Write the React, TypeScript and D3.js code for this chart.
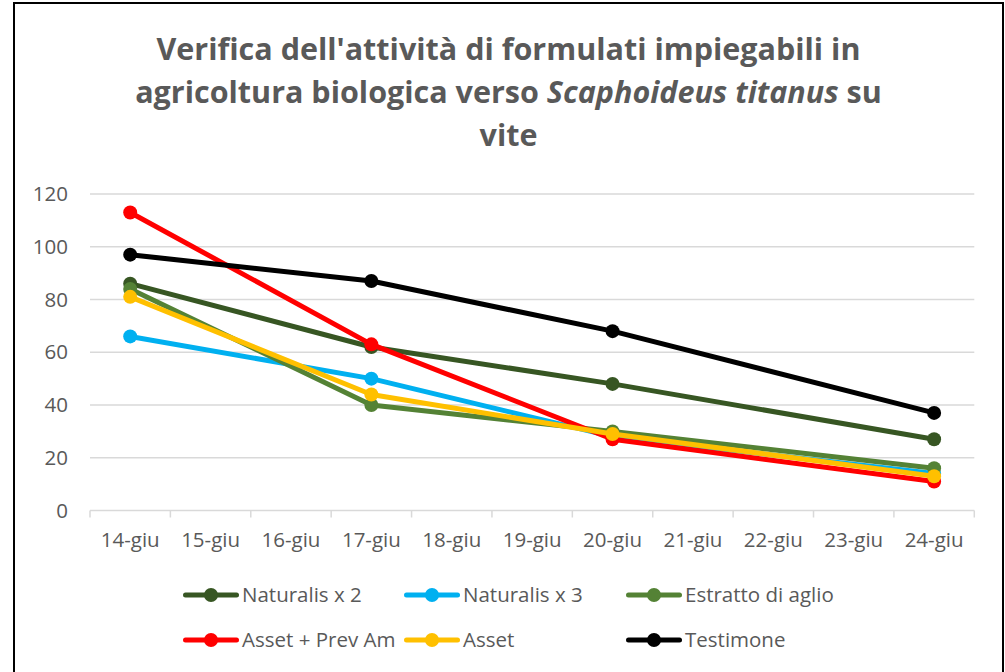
import React, { useEffect, useRef } from 'react';
import * as d3 from 'd3';

const categories = [
  '14-giu', '15-giu', '16-giu', '17-giu', '18-giu', '19-giu',
  '20-giu', '21-giu', '22-giu', '23-giu', '24-giu',
];
const sampleDays = ['14-giu', '17-giu', '20-giu', '24-giu'];

const seriesNames = [
  'Naturalis x 2',
  'Naturalis x 3',
  'Estratto di aglio',
  'Asset + Prev Am',
  'Asset',
  'Testimone',
];
const seriesColors = ['#375623', '#00B0F0', '#548235', '#FF0000', '#FFC000', '#000000'];

const naturalis2 = [86, 62, 48, 27];
const naturalis3 = [66, 50, 28, 14];
const estrattoAglio = [84, 40, 30, 16];
const assetPrevAm = [113, 63, 27, 11];
const asset = [81, 44, 29, 13];
const testimone = [97, 87, 68, 37];

const yTicks = [0, 20, 40, 60, 80, 100, 120];

const W = 1005;
const H = 672;
const FONT = "'Open Sans', 'Noto Sans', sans-serif";
const GREY = '#595959';

const App = () => {
  const svgRef = useRef<SVGSVGElement>(null);

  useEffect(() => {
    const svg = d3.select(svgRef.current);
    svg.selectAll('*').remove();

    const values = [naturalis2, naturalis3, estrattoAglio, assetPrevAm, asset, testimone];
    const series = seriesNames.map((name, i) => ({
      name,
      color: seriesColors[i],
      points: sampleDays.map((day, j) => ({ day, value: values[i][j] })),
    }));

    const x = d3.scaleBand().domain(categories).range([90, 974.3]).padding(0);
    const y = d3.scaleLinear().domain([0, 120]).range([510.5, 194]);

    // outer border
    svg
      .append('rect')
      .attr('x', 14)
      .attr('y', 3)
      .attr('width', 989)
      .attr('height', H + 10)
      .attr('fill', 'white')
      .attr('stroke', 'black')
      .attr('stroke-width', 2);

    // title
    const title = svg
      .append('text')
      .attr('text-anchor', 'middle')
      .attr('font-family', FONT)
      .attr('font-weight', 'bold')
      .attr('font-size', '30.5px')
      .attr('fill', GREY);
    title.append('tspan').attr('x', 508.5).attr('y', 60).text("Verifica dell'attività di formulati impiegabili in");
    const l2 = title.append('tspan').attr('x', 508.5).attr('y', 103);
    l2.append('tspan').text('agricoltura biologica verso ');
    l2.append('tspan').attr('font-style', 'italic').text('Scaphoideus titanus');
    l2.append('tspan').text(' su');
    title.append('tspan').attr('x', 508.5).attr('y', 146).text('vite');

    // gridlines
    svg
      .append('g')
      .selectAll('line')
      .data(yTicks.filter((d) => d > 0))
      .join('line')
      .attr('x1', x.range()[0])
      .attr('x2', x.range()[1])
      .attr('y1', (d) => y(d))
      .attr('y2', (d) => y(d))
      .attr('stroke', '#D9D9D9')
      .attr('stroke-width', 1.5);

    // y labels
    svg
      .append('g')
      .selectAll('text')
      .data(yTicks)
      .join('text')
      .attr('x', 68)
      .attr('y', (d) => y(d))
      .attr('dy', '0.35em')
      .attr('text-anchor', 'end')
      .attr('font-family', FONT)
      .attr('font-size', '20.5px')
      .attr('fill', GREY)
      .text((d) => d);

    // x axis
    const xAxis = svg.append('g');
    xAxis
      .append('line')
      .attr('x1', x.range()[0])
      .attr('x2', x.range()[1])
      .attr('y1', y(0))
      .attr('y2', y(0))
      .attr('stroke', '#D9D9D9')
      .attr('stroke-width', 1.5);
    const boundaries = categories.map((c) => x(c) as number).concat([x.range()[1]]);
    xAxis
      .selectAll('line.tick')
      .data(boundaries)
      .join('line')
      .attr('class', 'tick')
      .attr('x1', (d) => d)
      .attr('x2', (d) => d)
      .attr('y1', y(0))
      .attr('y2', y(0) + 7)
      .attr('stroke', '#D9D9D9')
      .attr('stroke-width', 1.5);
    xAxis
      .selectAll('text')
      .data(categories)
      .join('text')
      .attr('x', (d) => (x(d) as number) + x.bandwidth() / 2)
      .attr('y', 547)
      .attr('text-anchor', 'middle')
      .attr('font-family', FONT)
      .attr('font-size', '20.5px')
      .attr('fill', GREY)
      .text((d) => d);

    const cx = (d: string) => (x(d) as number) + x.bandwidth() / 2;
    const line = d3
      .line<{ day: string; value: number }>()
      .x((d) => cx(d.day))
      .y((d) => y(d.value));

    const sg = svg
      .append('g')
      .selectAll('g')
      .data(series)
      .join('g');
    sg.append('path')
      .attr('d', (d) => line(d.points))
      .attr('fill', 'none')
      .attr('stroke', (d) => d.color)
      .attr('stroke-width', 5)
      .attr('stroke-linejoin', 'round')
      .attr('stroke-linecap', 'round');
    sg.selectAll('circle')
      .data((d) => d.points.map((p) => ({ ...p, color: d.color })))
      .join('circle')
      .attr('cx', (d) => cx(d.day))
      .attr('cy', (d) => y(d.value))
      .attr('r', 7)
      .attr('fill', (d) => d.color);

    // legend
    const colX = [183, 404, 626];
    const rowY = [595, 640];
    const lg = svg
      .append('g')
      .selectAll('g')
      .data(series)
      .join('g')
      .attr('transform', (_, i) => `translate(${colX[i % 3]}, ${rowY[Math.floor(i / 3)]})`);
    lg.append('line')
      .attr('x1', 2.5)
      .attr('x2', 53.5)
      .attr('stroke', (d) => d.color)
      .attr('stroke-width', 5)
      .attr('stroke-linecap', 'round');
    lg.append('circle')
      .attr('cx', 28)
      .attr('r', 7)
      .attr('fill', (d) => d.color);
    lg.append('text')
      .attr('x', 59)
      .attr('dy', '0.35em')
      .attr('font-family', FONT)
      .attr('font-size', '20.5px')
      .attr('fill', GREY)
      .text((d) => d.name);
  }, []);

  return (
    <svg
      ref={svgRef}
      width={W}
      height={H}
      style={{ position: 'absolute', left: 0, top: 0, background: 'white' }}
    />
  );
};

export default App;
